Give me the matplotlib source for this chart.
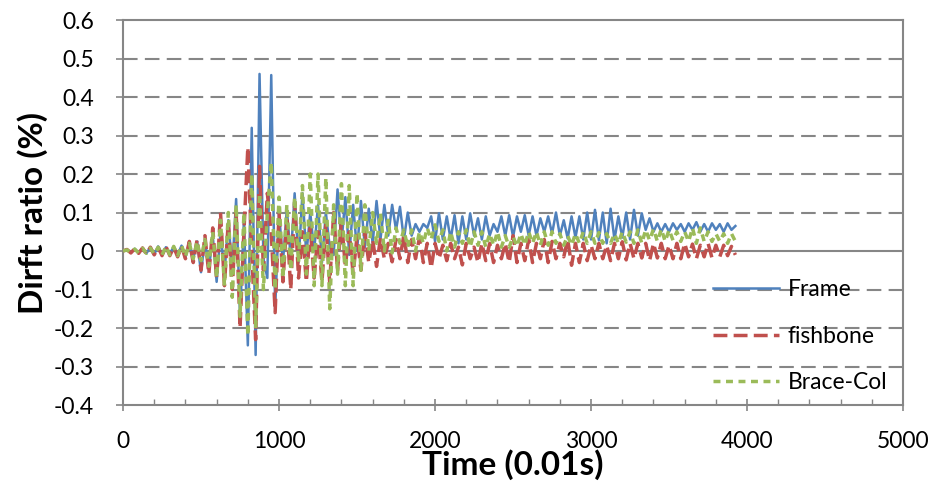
import numpy as np
import matplotlib
matplotlib.use("Agg")
import matplotlib.pyplot as plt


# sample times (0.01 s), one reading every 25 steps (peak / trough of each cycle)
time = np.arange(0, 3926, 25)

frame = [
    0, 0.004, -0.004, 0.006, -0.005, 0.008, -0.006, 0.01, -0.008, 0.012,
    -0.01, 0.01, -0.008, 0.012, -0.01, 0.014, -0.015, 0.02, -0.02, 0.025,
    -0.055, 0.03, -0.05, 0.04, -0.08, 0.05, -0.06, 0.08, -0.05, 0.135,
    -0.17, 0.08, -0.245, 0.32, -0.27, 0.46, -0.02, -0.07, 0.457, -0.15,
    0.1, -0.03, 0.11, -0.02, 0.15, -0.03, 0.15, -0.01, 0.1, 0.0,
    0.12, -0.03, 0.1, 0.01, -0.01, 0.16, 0.02, 0.14, -0.01, 0.12,
    0.0, 0.13, 0.01, 0.11, 0.02, 0.13, 0.03, 0.12, 0.04, 0.12,
    0.055, 0.115, 0.03, 0.10, 0.04, 0.07, 0.05, 0.07, 0.06, 0.09,
    0.025, 0.098, 0.03, 0.09, 0.03, 0.093, 0.02, 0.09, 0.03, 0.098,
    0.04, 0.085, 0.03, 0.09, 0.04, 0.07, 0.05, 0.09, 0.04, 0.093,
    0.037, 0.09, 0.05, 0.093, 0.04, 0.09, 0.04, 0.085, 0.05, 0.09,
    0.045, 0.10, 0.04, 0.08, 0.033, 0.09, 0.035, 0.09, 0.03, 0.10,
    0.03, 0.107, 0.028, 0.10, 0.02, 0.11, 0.03, 0.09, 0.035, 0.10,
    0.03, 0.107, 0.04, 0.098, 0.055, 0.085, 0.05, 0.072, 0.05, 0.07,
    0.05, 0.072, 0.055, 0.07, 0.05, 0.072, 0.055, 0.075, 0.05, 0.07,
    0.05, 0.072, 0.055, 0.07, 0.05, 0.072, 0.055, 0.065,
]

fishbone = [
    0, 0.004, -0.005, 0.006, -0.006, 0.008, -0.008, 0.01, -0.01, 0.01,
    -0.012, 0.012, -0.012, 0.01, -0.015, 0.012, -0.02, 0.025, -0.03, 0.03,
    -0.05, 0.04, -0.06, 0.06, -0.07, 0.1, -0.09, 0.08, -0.1, 0.1,
    -0.2, 0.05, 0.27, 0.0, -0.23, 0.22, -0.05, 0.15, 0.05, -0.16,
    0.1, -0.08, 0.08, -0.1, 0.127, -0.07, 0.05, -0.08, 0.06, -0.07,
    0.05, -0.08, 0.07, -0.083, 0.1, -0.05, 0.08, -0.04, 0.05, -0.06,
    0.04, -0.05, 0.05, -0.03, 0.03, -0.04, 0.034, -0.02, 0.02, -0.028,
    0.03, -0.02, 0.042, -0.03, 0.03, -0.02, 0.035, -0.03, 0.02, -0.044,
    0.02, -0.02, 0.015, -0.025, 0.02, -0.02, 0.01, -0.036, 0.02, -0.02,
    0.01, -0.03, 0.02, -0.025, 0.02, -0.03, 0.015, -0.02, 0.02, -0.03,
    0.04, -0.03, 0.02, -0.025, 0.03, -0.03, 0.02, -0.02, 0.03, -0.03,
    0.025, -0.02, 0.02, -0.015, 0.03, -0.037, 0.02, -0.03, 0.02, -0.025,
    0.015, -0.02, 0.02, -0.02, 0.015, -0.025, 0.02, -0.02, 0.024, -0.023,
    0.02, -0.02, 0.02, -0.018, 0.02, -0.025, 0.02, -0.018, 0.02, -0.02,
    0.015, -0.02, 0.02, -0.02, 0.02, -0.015, 0.018, -0.02, 0.015, -0.015,
    0.02, -0.018, 0.015, -0.015, 0.015, -0.012, 0.012, -0.01,
]

brace_col = [
    0, 0.003, -0.004, 0.005, -0.005, 0.007, -0.006, 0.008, -0.008, 0.01,
    -0.01, 0.012, -0.01, 0.012, -0.012, 0.015, -0.015, 0.02, -0.02, 0.025,
    -0.025, 0.03, -0.04, 0.05, -0.07, 0.08, -0.09, 0.1, -0.12, 0.12,
    -0.17, 0.1, -0.22, 0.2, -0.2, 0.15, -0.1, 0.1, 0.23, -0.1,
    0.14, -0.07, 0.12, -0.05, 0.14, -0.03, 0.17, -0.06, 0.2, -0.09,
    0.2, -0.09, 0.19, -0.15, 0.12, -0.06, 0.175, -0.09, 0.17, -0.09,
    0.15, -0.05, 0.12, 0.0, 0.1, 0.02, 0.098, 0.0, 0.08, -0.005,
    0.06, 0.02, 0.055, 0.01, 0.055, 0.0, 0.05, 0.02, 0.06, 0.03,
    0.068, 0.025, 0.055, 0.0, 0.05, 0.01, 0.05, 0.02, 0.055, 0.01,
    0.05, 0.015, 0.05, 0.01, 0.045, 0.015, 0.05, 0.01, 0.04, 0.01,
    0.037, 0.012, 0.045, 0.015, 0.05, 0.02, 0.05, 0.015, 0.05, 0.015,
    0.05, 0.02, 0.045, 0.015, 0.04, 0.015, 0.045, 0.02, 0.05, 0.02,
    0.05, 0.02, 0.048, 0.02, 0.045, 0.02, 0.045, 0.02, 0.05, 0.023,
    0.05, 0.02, 0.055, 0.02, 0.055, 0.028, 0.057, 0.025, 0.057, 0.025,
    0.055, 0.028, 0.05, 0.025, 0.05, 0.025, 0.06, 0.02, 0.06, 0.025,
    0.05, 0.025, 0.045, 0.025, 0.045, 0.02, 0.045, 0.025,
]

labels = ["Frame", "fishbone", "Brace-Col"]
y_ticks = [-0.4, -0.3, -0.2, -0.1, 0, 0.1, 0.2, 0.3, 0.4, 0.5, 0.6]
x_ticks = [0, 1000, 2000, 3000, 4000, 5000]

GRID = "#868686"


def main():
    plt.rcParams["font.family"] = ["Lato", "DejaVu Sans"]

    fig = plt.figure(figsize=(9.32, 4.88), dpi=100)
    ax = fig.add_axes([0.132, 0.170, 0.837, 0.789])

    ax.plot(time, frame, color="#4F81BD", linewidth=1.8, label=labels[0], zorder=3)
    ax.plot(time, fishbone, color="#C0504D", linewidth=2.5,
            linestyle=(0, (4, 1.8)), label=labels[1], zorder=4)
    ax.plot(time, brace_col, color="#9BBB59", linewidth=2.5,
            linestyle=(0, (2, 1.6)), label=labels[2], zorder=5)

    ax.set_xlim(0, 5000)
    ax.set_ylim(-0.4, 0.6)
    ax.set_xticks(x_ticks)
    ax.set_xticks(np.arange(0, 5001, 200), minor=True)
    ax.set_yticks(y_ticks)
    ax.set_yticklabels([f"{v:g}" for v in y_ticks])

    # dashed gridlines, solid line at zero
    for v in y_ticks[1:-1]:
        if v == 0:
            ax.axhline(v, color=GRID, linewidth=1.5, zorder=1)
        else:
            ax.axhline(v, color=GRID, linewidth=1.5,
                       linestyle=(0, (7, 3.5)), zorder=1)

    for s in ax.spines.values():
        s.set_color(GRID)
        s.set_linewidth(1.5)

    ax.tick_params(axis="x", which="major", direction="inout", length=9,
                   width=1.2, color=GRID, labelsize=16.5, pad=14)
    ax.tick_params(axis="x", which="minor", direction="in", length=4,
                   width=1.0, color=GRID)
    ax.tick_params(axis="y", which="major", direction="out", length=5,
                   width=1.2, color=GRID, labelsize=16.5, pad=16)

    ax.set_xlabel("Time (0.01s)", fontsize=24, fontweight="bold", labelpad=-2)
    ax.set_ylabel("Dirft ratio (%)", fontsize=24, fontweight="bold", labelpad=4)

    ax.legend(loc="lower right", bbox_to_anchor=(1.0, -0.01), frameon=False,
              fontsize=16.5, handlelength=2.9, handletextpad=0.35,
              labelspacing=1.1, borderaxespad=0.3)

    fig.savefig("out.png", dpi=100)


if __name__ == "__main__":
    main()
